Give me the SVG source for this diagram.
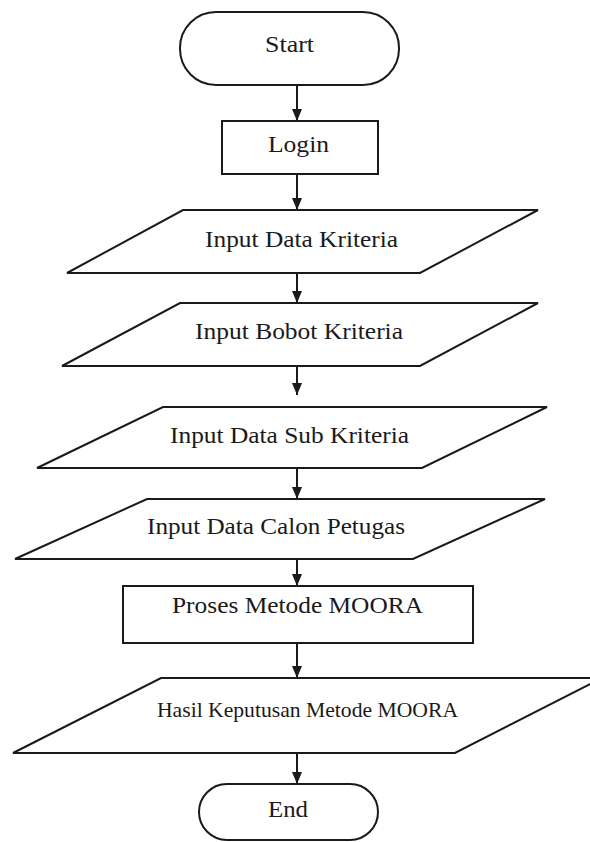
<svg xmlns="http://www.w3.org/2000/svg" width="590" height="842" viewBox="0 0 590 842">
<style>
.s{fill:#fff;stroke:#1a1a1a;stroke-width:2}
.t{font-family:"Liberation Serif","Times New Roman",serif;font-size:24px;fill:#1a1a1a}
.c{stroke:#1a1a1a;stroke-width:2;fill:none}
</style>
<defs>
<marker id="ah" markerUnits="userSpaceOnUse" markerWidth="12" markerHeight="10" refX="12" refY="5" orient="auto" viewBox="0 0 12 10">
<path d="M0,0 L12,5 L0,10 Z" fill="#1a1a1a"/>
</marker>
</defs>
<rect width="590" height="842" fill="#fff"/>
<g id="connectors">
<line class="c" x1="297" y1="85" x2="297" y2="121" marker-end="url(#ah)"/>
<line class="c" x1="297" y1="174" x2="297" y2="210" marker-end="url(#ah)"/>
<line class="c" x1="297" y1="273" x2="297" y2="303" marker-end="url(#ah)"/>
<line class="c" x1="297" y1="366" x2="297" y2="395" marker-end="url(#ah)"/>
<line class="c" x1="297" y1="468" x2="297" y2="499" marker-end="url(#ah)"/>
<line class="c" x1="297" y1="559" x2="297" y2="586" marker-end="url(#ah)"/>
<line class="c" x1="297" y1="643" x2="297" y2="678" marker-end="url(#ah)"/>
<line class="c" x1="297" y1="753" x2="297" y2="784" marker-end="url(#ah)"/>
</g>
<g id="start">
<rect class="s" x="180" y="12" width="219" height="73" rx="36" ry="36"/>
<text class="t" x="289.5" y="52" text-anchor="middle" textLength="49" lengthAdjust="spacingAndGlyphs">Start</text>
</g>
<g id="login">
<rect class="s" x="222" y="121" width="156" height="53"/>
<text class="t" x="298.5" y="152" text-anchor="middle" textLength="61" lengthAdjust="spacingAndGlyphs">Login</text>
</g>
<g id="input-data-kriteria">
<polygon class="s" points="183,210 538,210 420,273 67,273"/>
<text class="t" x="301.5" y="247" text-anchor="middle" textLength="193" lengthAdjust="spacingAndGlyphs">Input Data Kriteria</text>
</g>
<g id="input-bobot-kriteria">
<polygon class="s" points="180,303 538,303 420,366 62,366"/>
<text class="t" x="299" y="339" text-anchor="middle" textLength="208" lengthAdjust="spacingAndGlyphs">Input Bobot Kriteria</text>
</g>
<g id="input-data-sub-kriteria">
<polygon class="s" points="163,407 547,407 422,468 37,468"/>
<text class="t" x="289.5" y="443" text-anchor="middle" textLength="239" lengthAdjust="spacingAndGlyphs">Input Data Sub Kriteria</text>
</g>
<g id="input-data-calon-petugas">
<polygon class="s" points="147,499 545,499 413,559 15,559"/>
<text class="t" x="276" y="534" text-anchor="middle" textLength="258" lengthAdjust="spacingAndGlyphs">Input Data Calon Petugas</text>
</g>
<g id="proses-metode-moora">
<rect class="s" x="123" y="586" width="350" height="57"/>
<text class="t" x="297.5" y="613" text-anchor="middle" textLength="251" lengthAdjust="spacingAndGlyphs">Proses Metode MOORA</text>
</g>
<g id="hasil-keputusan">
<polygon class="s" points="161,678 602,678 455,753 13,753"/>
<text class="t" x="307.5" y="717" text-anchor="middle" textLength="301" lengthAdjust="spacingAndGlyphs" style="font-size:21px">Hasil Keputusan Metode MOORA</text>
</g>
<g id="end">
<rect class="s" x="199" y="784" width="179" height="56" rx="28" ry="28"/>
<text class="t" x="288" y="817" text-anchor="middle" textLength="40" lengthAdjust="spacingAndGlyphs">End</text>
</g>
</svg>
